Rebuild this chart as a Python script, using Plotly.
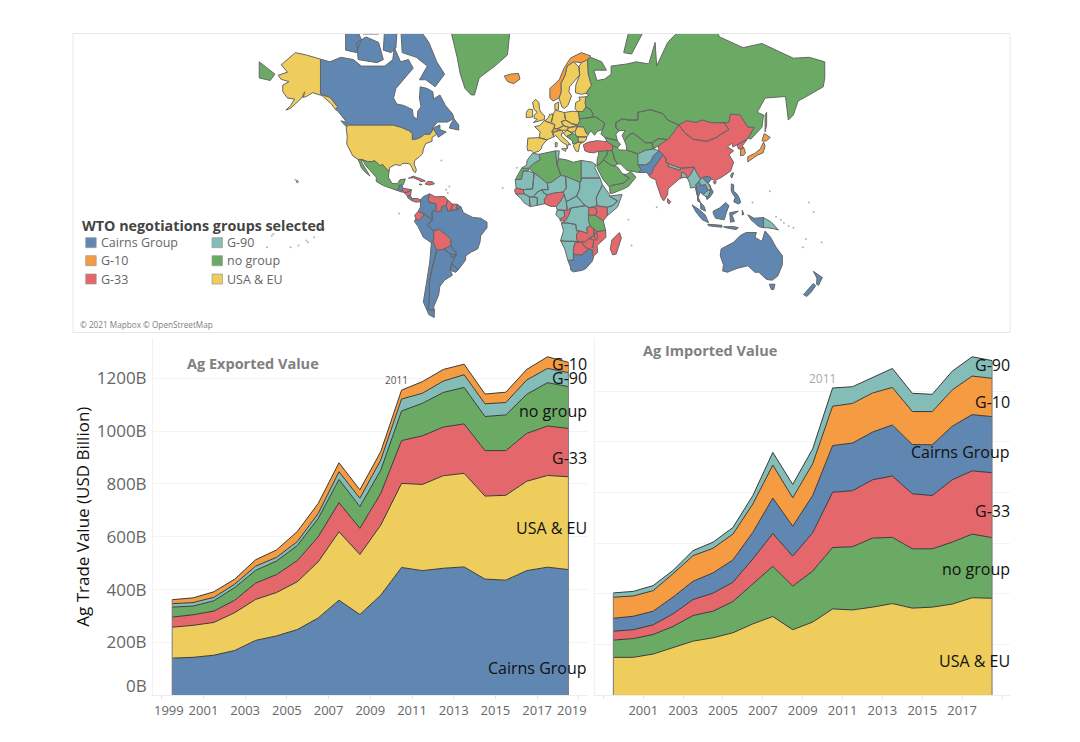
import math
import plotly.graph_objects as go

# ---------- Trade data (USD billion), one value per year, stack order bottom to top ----------
YEARS = list(range(1999, 2019))
EXP_CAIRNS = [141,144,152,170,208,225,249,293,360,306,379,484,472,481,486,440,436,472,485,476]
EXP_USA_EU = [117,121,124,143,155,164,181,212,259,227,265,318,326,350,354,314,321,338,347,351]
EXP_G33    = [38,40,43,47,62,68,80,95,110,99,120,162,184,184,187,172,169,181,187,183]
EXP_NONE   = [38,33,39,48,48,51,57,69,88,82,88,112,123,131,138,129,135,148,164,158]
EXP_G90    = [13,13,13,13,16,14,15,19,29,32,38,45,38,43,48,48,47,54,54,53]
EXP_G10    = [15,18,21,19,24,28,38,38,34,32,32,34,44,44,40,37,39,40,44,39]

IMP_USA_EU = [150,150,163,188,214,227,247,282,311,259,289,341,337,348,362,344,348,360,385,383]
IMP_NONE   = [68,74,77,84,101,105,123,158,198,172,201,242,249,272,261,234,230,244,251,239]
IMP_G33    = [35,35,38,50,63,71,76,98,129,118,151,218,221,230,242,217,210,246,249,256]
IMP_CAIRNS = [51,53,54,66,72,80,88,105,140,118,147,184,188,188,201,194,200,211,222,221]
IMP_G10    = [83,80,81,92,101,97,102,112,130,112,125,155,156,154,148,130,131,143,152,151]
IMP_G90    = [17,18,20,13,20,24,26,33,50,53,59,72,66,60,75,72,68,74,76,70]

Y_TICKS = [200, 400, 600, 800, 1000, 1200]
Y_LABELS = ["200B", "400B", "600B", "800B", "1000B", "1200B"]
X_TICKS_L = list(range(1999, 2020, 2))
X_TICKS_R = list(range(1999, 2020, 2))

COL = {"Cairns Group": "#5F87B1", "G-10": "#F59B42", "G-33": "#E4686B",
       "G-90": "#84BDB8", "no group": "#6BAA64", "USA & EU": "#EECD5C"}

# ---------- Simplified country outlines (lon, lat), by negotiating group ----------
CAIRNS_SHAPES = [
 [(-141,69.6),(-135,69),(-128,70),(-120,69.5),(-115,68),(-108,68),(-100,68),(-95,69.5),(-94,72),(-90,69),(-85,69.5),(-82,67.5),(-87,65),(-93,62),(-94.5,59),(-92.5,57),(-88,56.5),(-82.5,55),(-82,52.5),(-79.5,51.3),(-79,54.5),(-77,56),(-78,59),(-77.5,62.5),(-73,62),(-69.5,61),(-69,58.7),(-65,60),(-61.5,56.5),(-57,53.5),(-56,51.7),(-60,50.2),(-66.5,50.2),(-70,47.5),(-65,49),(-65,47),(-61,46),(-64,44.5),(-66,43.6),(-67,45),(-69,47.4),(-71.5,45),(-75,45),(-76.5,44),(-79,43),(-82.5,42.5),(-82.5,45.3),(-84.5,46.5),(-89.5,48),(-95,49),(-123,49),(-130,54.5),(-131.5,55),(-130,56),(-135,59.3),(-139,59.9),(-141,60.3)],
 [(-59,47.7),(-53,46.8),(-53,49),(-56,51.5),(-58,49.5)],
 [(-128,50.7),(-125,50.2),(-123.5,48.5),(-125.5,48.9)],
 [(-62,66),(-68,62.5),(-74,64.5),(-78,64.5),(-73,68),(-80,70),(-89,71),(-90,76),(-80,76),(-72,73),(-67,69)],
 [(-117,69.5),(-105,68.8),(-101,69.5),(-104,73),(-112,74),(-118,73)],
 [(-125,71.5),(-118,71),(-115,73.5),(-119,76),(-125,76)],
 [(-101,71.5),(-96,71),(-93,72),(-92,76),(-100,76)],
 [(-90,77),(-78,77),(-62,82.5),(-85,83),(-92,81)],
 [(-114,74.5),(-104,74.5),(-104,78),(-114,78)],
 [(-92.2,14.5),(-91,16),(-91,17.8),(-89.2,17.8),(-88.3,15.7),(-90,13.8)],
 [(-85.7,11),(-83.7,11),(-82.7,9.5),(-83,8.2),(-85.5,10)],
 [(-77.3,8.7),(-75.5,10.7),(-71.5,12.4),(-72.5,9),(-72,7),(-67.5,6.2),(-67.5,2),(-70,1.2),(-69.8,-4.2),(-72,-2.3),(-75.2,-0.1),(-78.8,1.4),(-77.4,4)],
 [(-80.3,-3.4),(-78.5,-4.5),(-75.5,-1.5),(-75.2,-0.1),(-72,-2.3),(-69.8,-4.2),(-73,-7.2),(-70.5,-9.5),(-69,-11),(-69,-16.5),(-70.4,-18.3),(-75.5,-15),(-79,-8),(-81.3,-5)],
 [(-70.4,-18.3),(-69.5,-17.5),(-67,-22.8),(-70,-33),(-71.7,-40),(-71.7,-48),(-72.5,-52),(-68.5,-52.3),(-68.6,-55),(-72,-54),(-75.5,-49),(-73.5,-40),(-71.5,-30)],
 [(-67,-22.8),(-62.6,-22.2),(-58,-25),(-54.6,-25.6),(-57.6,-30.2),(-58.4,-34),(-57,-36.5),(-62,-39),(-65,-42),(-65.8,-46),(-69,-51),(-68.5,-52.3),(-72.5,-52),(-71.7,-48),(-71.7,-40),(-70,-33)],
 [(-62.6,-22.2),(-58,-20),(-55,-24),(-54.6,-25.6),(-58,-27),(-58,-25)],
 [(-57.6,-30.2),(-53.4,-33.8),(-55,-35),(-58.4,-34)],
 [(-61,5.2),(-60,1.3),(-58,2),(-54.3,2.3),(-51.6,4.2),(-50,0.5),(-44,-2.5),(-39,-3),(-35,-5.5),(-35,-9),(-39,-14),(-39.5,-18),(-41,-22),(-45,-23.8),(-48.5,-26),(-48.7,-28.5),(-53.4,-33.8),(-57.6,-30.2),(-54.6,-25.6),(-55,-24),(-58,-20),(-58,-16.3),(-60.5,-13.8),(-65.4,-10),(-69,-11),(-70.5,-9.5),(-73,-7.2),(-69.8,-4.2),(-70,1.2),(-67.5,2),(-67,1.2),(-64,1.5),(-64,4)],
 [(-54,5.9),(-51.6,4.2),(-54.3,2.3)],
 [(16.5,-28.6),(20,-28.5),(20,-25),(23,-25.3),(25.5,-25.7),(27,-24),(30,-22.3),(32,-22.3),(32,-26),(33,-26.5),(32,-29),(28,-33),(25.5,-34),(20,-34.8),(18.4,-34),(18,-32)],
 [(61,29.7),(66,29.5),(69.3,31.5),(71,34.5),(74.5,37),(77,35),(74.5,32),(71,27.7),(70,25),(68,23.7),(66.5,25.3),(61.6,25.2),(63,27)],
 [(100,20),(101,17.5),(104,18),(105.5,14.5),(102.5,12),(100.5,13.5),(99.5,10),(101,6.8),(99,8),(99,11),(98,18)],
 [(102,22.3),(106,23),(108,21.5),(105.8,19),(109,13.5),(107,10.5),(105,8.8),(104.5,10.5),(106,11),(107.5,14.5),(107.5,15),(107,17.5)],
 [(101,6.8),(102,6),(103.5,4),(104,1.5),(101,3)],
 [(109,1.5),(113,3.5),(117,7),(119,5),(117.5,1),(116,-4),(110.5,-3),(109,0)],
 [(95.5,5.5),(100,2.5),(104,-1),(106,-5.8),(102,-4),(98,1)],
 [(105.5,-6.8),(114.5,-7.5),(114.5,-8.7),(106,-7.8)],
 [(115.5,-8.4),(122,-8.3),(125,-9),(123.5,-10.2),(117,-9)],
 [(119.5,0.5),(125,1.5),(121,-1),(122.5,-5),(120,-5.5)],
 [(127.5,2),(128.5,-0.5),(127.5,-1)],
 [(120.5,18.5),(122,18),(122,14),(124,12.5),(125.5,10),(126.5,7),(125,6),(122,7.5),(123,10),(120.5,14)],
 [(131,-0.8),(135,-3),(141,-2.6),(141,-9),(138,-8.3),(133,-4)],
 [(114,-22),(122,-18),(126,-14),(130,-12),(136.5,-12),(135.5,-15),(140,-17.5),(142,-11),(145.5,-15),(149,-21),(153,-26),(153,-31),(150,-37),(146.5,-39),(143,-38.7),(138,-35),(135.5,-35),(131,-31.5),(124,-33),(118,-35),(115,-34.3),(115.5,-31),(113.5,-26)],
 [(144.7,-41),(148.3,-41),(147.5,-43.5),(146,-43.5)],
 [(172.7,-34.5),(178.5,-37.7),(176,-41.5),(174.8,-41),(175,-38)],
 [(172.7,-40.6),(174.2,-41.7),(171,-45),(168.5,-46.6),(166.5,-45.8)],
]
G10_SHAPES = [
 [(-24,65.5),(-22,64),(-18,63.4),(-14,64.7),(-15,66.2),(-20,66)],
 [(5,59),(7,58),(10.8,59),(12.2,61),(12,63.5),(14.5,65.5),(16,68),(20,69),(25,68.8),(29,69.5),(31,70.3),(25,71),(18,69.8),(14,67.5),(11,64.5),(5,62)],
 [(6.2,46.2),(7.5,47.5),(10,47.4),(10,46.3),(8,46)],
 [(126.5,38),(128.5,38.5),(129.5,36),(128.5,34.8),(126.3,34.5)],
 [(131,34),(135.5,35.7),(139,38),(141,41.3),(142,39.5),(140.8,36),(137,34.7),(135,33.7),(131,31.2)],
 [(140,42),(141.5,45.3),(145.3,43.5),(143,42),(141,41.7)],
]
G33_SHAPES = [
 [(-89.3,15),(-88,15.8),(-83.2,15),(-85,13.8),(-87.5,13)],
 [(-87.5,13),(-85,13.8),(-83.2,15),(-83.7,11),(-85.7,11)],
 [(-90,13.8),(-89.3,15),(-87.5,13.2)],
 [(-83,8.2),(-82.7,9.5),(-79.5,9.5),(-77.3,8.7),(-78,7.3),(-80.5,7.3)],
 [(-85,21.9),(-82,23.1),(-77,21.5),(-74.2,20.2),(-77.5,19.9),(-78,20.7),(-82,22.2)],
 [(-74.4,18.4),(-72.8,20),(-69.8,19.8),(-68.4,18.6),(-71.5,17.8)],
 [(-78.3,18.4),(-76.3,18.2),(-77.5,17.8)],
 [(-71.5,12.4),(-68,10.6),(-62,10.7),(-60,8.5),(-61,5.2),(-64,4),(-64,1.5),(-67,1.2),(-67.5,2),(-67.5,6.2),(-72,7),(-72.5,9)],
 [(-60,8.5),(-57,6),(-58,2),(-60,1.3),(-61,5.2)],
 [(-57,6),(-54,5.9),(-54.3,2.3),(-58,2)],
 [(-78.8,1.4),(-75.2,-0.1),(-75.5,-1.5),(-78.5,-4.5),(-80.3,-3.4),(-81,-1)],
 [(-69,-11),(-65.4,-10),(-60.5,-13.8),(-58,-16.3),(-58,-20),(-62.6,-22.2),(-67,-22.8),(-69.5,-17.5),(-69,-16.5)],
 [(26.3,40),(29,41.2),(35,42),(41.5,41.5),(44.8,39.7),(44.8,37),(42,37.2),(36,36.8),(33,36),(30,36.2),(27.3,37)],
 [(77,35),(79,33),(78.8,31),(81,30),(80,28.7),(88,26.4),(88.2,27.8),(92,27.8),(97,28.3),(94.5,24),(92.5,22),(91.5,24.5),(89,25.5),(88.5,22),(86.8,21),(85,19.5),(80.2,15.5),(80,12),(77.5,8),(76,10),(74,15),(72.8,19),(72.5,21),(69,22.3),(68,23.7),(70,25),(71,27.7),(74.5,32)],
 [(80,9.5),(82,7.5),(80.7,6),(79.8,7.5)],
 [(74,39.5),(80,42.5),(83,45),(87,49),(91,45.5),(96,42.7),(105,41.7),(111,43.5),(115,45.5),(119,47),(116,49.8),(119,50),(120,53.3),(126,53),(131,48),(135,48),(131,43),(128,41.5),(124.3,40),(121.5,39),(121,40.8),(118,39),(122,37),(119,35),(122,31),(120,26),(114,22.3),(110,20.5),(108,21.5),(106,23),(102,22.3),(101,21.5),(98.5,25),(97,28.3),(92,27.8),(88.2,27.8),(81,30),(78.8,31),(79,33),(77,35),(74.5,37)],
 [(87,49),(92,50.7),(98,50),(102,51),(107,50),(114,50),(116,49.8),(119,47),(115,45.5),(111,43.5),(105,41.7),(96,42.7),(91,45.5)],
 [(124.3,40),(128,41.5),(130.5,42.5),(127.5,39.5),(128.5,38.5),(126.5,38),(125,38)],
 [(109,19.8),(111,19.8),(110,18.3)],
 [(-16.5,16),(-12,15),(-11.5,12.5),(-16.7,12.4),(-17.5,14.7)],
 [(1.6,6.2),(1.5,9),(3.5,11.8),(8,13),(13.5,13.5),(14,12),(12,8),(9,4.5),(5.5,4.5)],
 [(14,2),(16,2),(18.5,3.5),(17,-1),(15,-4.5),(11.5,-4.8),(11.5,-3.5),(14.5,-2)],
 [(30,3.7),(34,4),(35,1),(34,-1),(29.5,-1)],
 [(35,5),(36,4.5),(41.5,4),(41.5,-1.5),(39,-4.7),(34,-1),(35,1),(34,4)],
 [(22,-13),(24,-11),(29,-12.5),(28.5,-9),(30.7,-8),(32.5,-9.3),(33,-11),(33.2,-14),(30,-15.5),(27.5,-17.7),(25,-17.8),(23.5,-17.5),(22,-16.5)],
 [(33,-9.5),(34.8,-11.5),(35.5,-15),(34.5,-17),(33,-14)],
 [(25,-17.8),(27.5,-17.7),(30,-15.8),(32.9,-16.7),(32.5,-21),(30,-22.3),(27,-20.5)],
 [(30,-15.5),(33.2,-14),(34.8,-11.5),(40.5,-10.7),(40.7,-15),(35,-20),(35.5,-24),(33,-26),(32,-26),(32.5,-21),(32.9,-16.7)],
 [(20,-22),(21,-18.3),(25,-17.8),(27,-20.5),(30,-22.3),(27,-24),(25.5,-25.7),(23,-25.3),(20,-25)],
 [(49.3,-12),(50.5,-15.5),(47.2,-25),(45,-25.5),(43.5,-22),(44.5,-16.5)],
]
G90_SHAPES = [
 [(-13,27.7),(-9.8,29.5),(-9.5,32),(-6,35.8),(-2,35.2),(-1.2,32.5),(-5,30.5),(-8.7,27.7)],
 [(-17,21),(-13,21.3),(-12,26),(-8.7,26),(-5,25),(-6,15.5),(-12,15),(-16.5,16)],
 [(8.5,37),(11,37),(10.5,33),(9.5,30)],
 [(25,32),(32,31),(34.5,29.5),(33.5,28),(36.9,22),(25,22)],
 [(-12,15),(-6,15.5),(-5,25),(3.3,19),(4,15),(0,15),(-3,13.5),(-5.5,10.5),(-8,10.5),(-11.5,12.5)],
 [(0,15),(4,15),(3.3,19),(6,19.5),(12,23.5),(15,23),(15.5,16),(13.5,13.5),(8,13),(3.5,11.8),(1,13)],
 [(15,23),(24,19.5),(24,15.5),(22,11),(15.5,7.5),(14,12),(13.5,13.5),(15.5,16)],
 [(24,19.5),(25,20),(25,22),(36.9,22),(38.5,18),(36.5,14),(34.5,10),(35,5),(30,3.7),(27.5,5),(24,9),(22,11),(24,15.5)],
 [(36.5,14),(38.5,18),(43,12),(42.8,11),(48,8),(45,5),(41.5,4),(36,4.5),(35,5),(34.5,10)],
 [(42.8,11),(51,12),(48,4),(41.5,-1.5),(41.5,4),(45,5),(48,8)],
 [(-16.7,12.4),(-11.5,12.5),(-8,10.5),(-8,8),(-7.5,4.4),(-11.5,6.9),(-13.5,9.5)],
 [(-8,10.5),(-5.5,10.5),(-3,10),(-3,5.2),(-7.5,4.4),(-8,8)],
 [(-5.5,10.5),(-3,13.5),(0,15),(1,13),(3.5,11.8),(1.5,9),(1.6,6.2),(-3,5.2),(-3,10)],
 [(9,4.5),(12,8),(14,12),(15.5,7.5),(16,2),(9.7,2.3)],
 [(15.5,7.5),(22,11),(24,9),(27.5,5),(18.5,3.5),(16,2)],
 [(9.7,2.3),(14,2),(14.5,-2),(11.5,-3.5),(8.8,-0.7)],
 [(18.5,3.5),(27.5,5),(30,3.7),(29.5,-1),(29.5,-4.5),(30.7,-8),(28.5,-9),(29,-12.5),(24,-11),(22,-11),(21.5,-7),(16,-6),(12.3,-6),(15,-4.5),(17,-1)],
 [(12.3,-6),(16,-6),(21.5,-7),(22,-11),(24,-11),(22,-13),(22,-16.5),(23.5,-17.5),(14,-17.4),(11.8,-17),(13.7,-11),(13,-8)],
 [(11.8,-17),(14,-17.4),(23.5,-17.5),(25,-17.8),(21,-18.3),(20,-22),(20,-28.5),(16.5,-28.6),(14.5,-22)],
 [(61,35.5),(66,37.3),(71,38),(74.5,37),(71,34.5),(69.3,31.5),(66,29.5),(61,29.7),(61,31)],
 [(80,28.7),(81,30),(88.2,27.8),(88,26.4)],
 [(88.5,22),(89,25.5),(91.5,24.5),(92.5,22),(91,22.5)],
 [(92.5,22),(94.5,24),(97,28.3),(98.5,25),(101,21.5),(98,18),(99,11),(97.5,16.5),(94.5,16),(94,19)],
 [(101,21.5),(102,22.3),(107,17.5),(107.5,15),(105.5,14.5),(104,18),(101,17.5),(100,20)],
 [(102.5,12),(105.5,14.5),(107.5,14.5),(106,11),(104.5,10.5)],
 [(141,-2.6),(146,-5.5),(150.5,-10.5),(147,-9.5),(143,-9),(141,-9)],
]
NOGROUP_SHAPES = [
 [(-45,60),(-43,60),(-40,65),(-30,68),(-22,70.5),(-20,75),(-18,80),(-30,83.5),(-60,82),(-70,78),(-58,75),(-54,70),(-52,66),(-49,62)],
 [(-114.8,32.5),(-111,31.3),(-108.2,31.4),(-106.5,31.8),(-104.8,30.5),(-103,29),(-101.5,29.8),(-99.5,27.5),(-97.3,26),(-97.8,22.5),(-95.5,18.8),(-92,18.6),(-90.5,21),(-87,21.5),(-88.3,18),(-89.2,17.8),(-91,16),(-92.2,14.5),(-96,15.8),(-101,17.5),(-105.5,20),(-105.5,22.5),(-109,26),(-112.5,29.5),(-113.5,31.3)],
 [(-117.1,32.5),(-114.8,32.4),(-114.5,30.5),(-112,27),(-109.5,23.2),(-112,25),(-115,28),(-116,30.5)],
 [(28,60.5),(30,60),(28,59.4),(27.5,57.5),(28,56),(31,55),(32.7,53.2),(31,52),(34,52.3),(40,49.7),(38.5,47),(37.5,45),(40,43.5),(48,42),(47,45),(49,46.5),(47,48),(47,50),(51,51.5),(55,51),(61,51),(61,54),(69,55),(77,53.5),(80,51),(87,49),(92,50.7),(98,50),(102,51),(107,50),(114,50),(119,50),(120,53.3),(126,53),(131,48),(135,48),(131,43),(133,42.8),(140,48),(141,53),(137,54),(142,59),(155,59.5),(155.5,57),(156.8,51),(160,53),(163,58),(170,60),(179,62.5),(180,65),(180,69),(170,70),(160,69.8),(140,72.8),(128,72),(113,74),(105,77.8),(87,75),(80,73),(73,68),(72,73),(68,68.5),(60,69),(54,68.5),(44,68),(44,66),(40,64.7),(35,64.3),(33,67),(41,67),(38,69),(31,70),(29,69.5),(29.5,66),(31.5,62.9)],
 [(-180,65),(-173,64.3),(-170,66),(-175,67.5),(-180,69)],
 [(142,46),(143,49),(143,54),(142,53)],
 [(52,71),(57,70.7),(68,76.5),(56,75.7)],
 [(49,46.5),(47,48),(47,50),(51,51.5),(55,51),(61,51),(61,54),(69,55),(77,53.5),(80,51),(87,49),(85,47),(83,45),(80,42.5),(74,43),(70,41),(66,41),(61,44),(58,45.5),(56,45),(52.5,42),(51,44.5),(53,46.7)],
 [(52.5,42),(56,45),(58,45.5),(61,44),(66,41),(70,41),(71,38),(66,37.3),(61,35.5),(54,37.3),(53.5,40)],
 [(70,41),(74,43),(80,42.5),(74,39.5),(71,38)],
 [(40,43.5),(48,42),(50,40.2),(48,38.5),(44.8,39.7),(41.5,41.5)],
 [(44.8,39.7),(48,38.5),(49,37.5),(54,37.3),(61,35.5),(61,31),(63,27),(61.6,25.2),(57,26),(54,26.5),(50,30),(48,30),(46,33),(44.8,37)],
 [(42,37.2),(44.8,37),(46,33),(48,30),(46.5,29),(44,29.3),(39,32.3),(41,34.5)],
 [(36,36.8),(42,37.2),(41,34.5),(39,32.3),(37,30),(35,29.5),(35.2,33),(36,35)],
 [(35,29.5),(37,30),(39,32.3),(44,29.3),(46.5,29),(48.5,28),(50,26),(51.5,24.3),(55.5,22),(52,19),(44,17.5),(43,16.5),(39,21),(35,28)],
 [(43,16.5),(44,17.5),(52,19),(55.5,22),(51.5,24.3),(54,24.2),(56.4,26),(59.8,22.5),(55,17),(52,15.5),(45,12.8),(43.3,12.8)],
 [(23,54.3),(26,54.3),(28,56),(31,55),(32.7,53.2),(31,52),(24,51.5)],
 [(24,51.5),(31,52),(34,52.3),(40,49.7),(38.5,47),(35,46.2),(33.5,44.5),(31,46.5),(29.6,45),(28.2,45.5),(26.5,48.2),(22.5,48.3),(22.7,49.1),(24,50.5)],
 [(16,44.2),(19,45),(19,46),(21.5,44.5),(23,43),(23,41.3),(20.8,40.5),(19.5,40.5),(19.3,42),(18.5,42.4)],
 [(-17,21),(-13,27.7),(-8.7,27.7),(-8.7,26),(-12,26),(-13,21.3)],
 [(-8.7,27.7),(-5,30.5),(-1.2,32.5),(-2,35.2),(8.5,37),(9.5,30),(12,23.5),(6,19.5),(3.3,19),(-5,25)],
 [(9.5,30),(10.5,33),(15.5,32.3),(20,31),(25,32),(25,20),(24,19.5),(15,23),(12,23.5)],
 [(29.5,-1),(34,-1),(39,-4.7),(39.5,-6.5),(40.5,-10.7),(35,-11.5),(32.5,-9.3),(30.7,-8),(29.5,-4.5)],
 [(121,25),(122,25),(120.8,22),(120,23.3)],
]
USAEU_SHAPES = [
 [(-124.7,48.4),(-123,49),(-95,49),(-89.5,48),(-84.5,46.5),(-82.5,45.3),(-82.5,42.5),(-79,43),(-76.5,44),(-75,45),(-71.5,45),(-69,47.4),(-67,45),(-70,43.5),(-70,41.7),(-74,40.6),(-75.5,38),(-76,35.5),(-78,33.9),(-81,32),(-81.4,30),(-80,26.8),(-80.5,25.2),(-81.8,26),(-82.8,28),(-84,30),(-86,30.4),(-89,30.3),(-90,29.2),(-93.5,29.7),(-97,28),(-97.3,26),(-99.5,27.5),(-101.5,29.8),(-103,29),(-104.8,30.5),(-106.5,31.8),(-108.2,31.4),(-111,31.3),(-114.8,32.5),(-117.1,32.5),(-120.5,34.5),(-122.5,37.5),(-124.3,40.4),(-124,44)],
 [(-141,69.6),(-141,60.3),(-139,59.9),(-135,59.3),(-130,56),(-131.5,55),(-134,57),(-137,58.5),(-140,59.8),(-146,60.7),(-150,59.5),(-152,59.2),(-151,61),(-153,59),(-156,57.5),(-160,55.5),(-163,54.8),(-160,56.5),(-157.5,58.7),(-162,59),(-165,61),(-165,63),(-161,64),(-166,64.6),(-168,65.7),(-162,66.5),(-166,68.3),(-157,71),(-150,70.5)],
 [(-156,20.8),(-155,19.8),(-155.8,19),(-156.3,20)],
 [(-10,52),(-6,52.2),(-6,55),(-8.5,55.2),(-10,54)],
 [(-5.5,50),(1.5,51.2),(1.7,52.7),(0,53.5),(-1.5,55),(-2,57.5),(-4,58.6),(-6,57.5),(-5,55),(-3,54),(-5,53),(-5,51.7),(-3,51.3)],
 [(-9,43.2),(-1.8,43.4),(3.2,42.4),(0.2,39.8),(-0.5,38),(-2,36.8),(-5.5,36),(-7,37.2),(-9,37),(-9.5,38.7)],
 [(-1.8,43.4),(-1.2,46),(-4.7,48.3),(-1.6,48.7),(1.5,50.8),(4.2,50),(8.2,49),(7.5,47.5),(6.2,46.2),(7.5,43.8),(3.2,42.4)],
 [(1.5,50.8),(2.5,51),(4,52),(5,53.3),(7.1,53.4),(6,50.2),(4.2,50)],
 [(7.1,53.4),(8.7,54.9),(10,54.6),(14.2,53.9),(15,51),(12.2,50.3),(13.7,48.7),(10,47.4),(7.5,47.5),(8.2,49),(6,50.2)],
 [(8.2,55),(8.2,57),(10.6,57.7),(10.5,55),(9.7,54.8)],
 [(14.2,53.9),(19,54.4),(23,54.3),(24,50.5),(22.7,49.1),(19,49.5),(15,51)],
 [(12.2,50.3),(15,51),(19,49.5),(22.5,49),(18,47.8),(13.7,48.7)],
 [(10,47.4),(13.7,48.7),(17,48),(16,46.8),(12.5,46.7)],
 [(16,46.8),(17,48),(22.5,48.3),(21,46.2),(18.5,45.8)],
 [(7.5,43.8),(7,45.9),(8,46),(10,46.5),(12.5,46.7),(13.7,45.6),(12.3,45.2),(12.5,44),(16,41.8),(18.4,40),(16.8,40.4),(16,38),(15.7,40),(12.5,41.4),(10.5,43),(8.8,44.4)],
 [(12.5,38),(15.5,38.2),(15,36.7)],
 [(8.3,41),(9.7,41),(9.5,39),(8.5,39)],
 [(13.7,45.6),(16,46.8),(18.5,45.8),(19,45),(16,44.2),(18.5,42.4),(15,44.2),(14,45)],
 [(21,46.2),(22.5,48.3),(26.5,48.2),(28.2,45.5),(29.6,45),(28.6,43.8),(25,43.7),(23,43.8),(21.5,44.5)],
 [(23,43.8),(25,43.7),(28.6,43.8),(27.8,42),(26.3,41.3),(23,41.3)],
 [(20.8,40.5),(23,41.3),(26.3,41.3),(24,40.3),(23.5,38),(23,36.5),(21.5,37),(20,39.5)],
 [(21,55.3),(21.5,57.5),(24.3,58.3),(23.5,59.3),(28,59.4),(27.5,57.5),(28,56),(26,54.3),(23,54.3)],
 [(10.8,59),(12.7,56),(14.2,55.4),(16.5,56.5),(18.8,59.7),(17.2,61),(17.5,62.5),(21,64.5),(24,65.8),(23.5,67.8),(20,69),(16,68),(14.5,65.5),(12,63.5),(12.2,61)],
 [(21.3,60.7),(25,60.2),(28,60.5),(31.5,62.9),(29.5,66),(29,69.5),(28,70),(25,68.8),(23.5,67.8),(24,65.8),(21.5,63)],
]
# Small Pacific and Atlantic islands, seen only as specks
ISLAND_LON = [-157,-150,-149,-145,-141,-139,-172,-171,-175,178,168,166,160,157,154,152,149,145,134,170,173,-25,-16,-61,-60,-59,-64,57,55,73,-91,-155,-160]
ISLAND_LAT = [21,-17,-18,-15,-9,-10,-14,-13,-21,-18,-16,-21,-9,-8,-6,-4,-2,14,7,7,1,16,28,15,13,17,32,-20,-4,4,0,-20,-21]

# ---------- Layout helpers (page pixels; the browser's 8 px body margin is removed) ----------
W, H, PAGE = 1064, 726, 8
def px(v): return (v - PAGE) / W
def py(v): return 1 - (v - PAGE) / H
def merc(lat): return math.log(math.tan(math.pi / 4 + math.radians(lat) / 2))

FONT = "Open Sans"
LINE = "#3a3a3a"
fig = go.Figure()

# ---------- Map ----------
for name, shapes in [("USA & EU", USAEU_SHAPES), ("no group", NOGROUP_SHAPES), ("G-90", G90_SHAPES),
                     ("G-33", G33_SHAPES), ("G-10", G10_SHAPES), ("Cairns Group", CAIRNS_SHAPES)]:
    xs, ys = [], []
    for poly in shapes:
        xs += [p[0] for p in poly] + [poly[0][0], None]
        ys += [merc(p[1]) for p in poly] + [merc(poly[0][1]), None]
    fig.add_trace(go.Scatter(x=xs, y=ys, mode="lines", fill="toself", fillcolor=COL[name],
                             line=dict(color="#666666", width=1), xaxis="x3", yaxis="y3",
                             showlegend=False, hoverinfo="skip"))
fig.add_trace(go.Scatter(x=ISLAND_LON, y=[merc(v) for v in ISLAND_LAT], mode="markers",
                         marker=dict(size=2, color="#b5b5b5"), xaxis="x3", yaxis="y3",
                         showlegend=False, hoverinfo="skip"))

# ---------- Stacked areas ----------
XVALS = [y + 0.5 for y in YEARS]
EXPORT = [("Cairns Group", EXP_CAIRNS), ("USA & EU", EXP_USA_EU), ("G-33", EXP_G33),
          ("no group", EXP_NONE), ("G-90", EXP_G90), ("G-10", EXP_G10)]
IMPORT = [("USA & EU", IMP_USA_EU), ("no group", IMP_NONE), ("G-33", IMP_G33),
          ("Cairns Group", IMP_CAIRNS), ("G-10", IMP_G10), ("G-90", IMP_G90)]
for series, xa, ya, grp in [(EXPORT, "x", "y", "exp"), (IMPORT, "x2", "y2", "imp")]:
    for name, vals in series:
        fig.add_trace(go.Scatter(x=XVALS, y=vals, mode="lines", name=name, stackgroup=grp,
                                 fillcolor=COL[name], line=dict(color=LINE, width=1),
                                 xaxis=xa, yaxis=ya, showlegend=False))
    total_first = sum(v[0] for _, v in series)
    total_last = sum(v[-1] for _, v in series)
    fig.add_trace(go.Scatter(x=[XVALS[0], XVALS[0], None, XVALS[-1], XVALS[-1]],
                             y=[0, total_first, None, 0, total_last], mode="lines",
                             line=dict(color="#777777", width=1), xaxis=xa, yaxis=ya,
                             showlegend=False, hoverinfo="skip"))

def year_axis(x0, x1, r0, r1, anchor, vals, text):
    return dict(domain=[px(x0), px(x1)], range=[r0, r1], anchor=anchor, tickmode="array",
                tickvals=vals, ticktext=text, ticks="outside", ticklen=3, tickcolor="#e2e2e2",
                showgrid=False, zeroline=False, showline=True, linecolor="#ececec", linewidth=1,
                tickfont=dict(family=FONT, size=13, color="#666666"))
def val_axis(top, r1, anchor, **kw):
    return dict(domain=[py(695.4), py(top)], range=[0, r1], anchor=anchor, showgrid=True,
                gridcolor="#f3f3f3", gridwidth=1, zeroline=False, showline=True,
                linecolor="#f1f1f1", linewidth=1, **kw)

left_text = ["" if y in (1999, 2019) else str(y) for y in X_TICKS_L]
right_text = ["" if y in (1999, 2019) else str(y) for y in X_TICKS_R]

fig.update_layout(
    width=W, height=H, margin=dict(l=0, r=0, t=0, b=0), paper_bgcolor="white", plot_bgcolor="white",
    showlegend=False, hovermode=False, font=dict(family=FONT),
    xaxis=year_axis(153, 588, 1998.58, 2019.44, "y", X_TICKS_L, left_text),
    yaxis=val_axis(338, 1352, "x", tickmode="array", tickvals=Y_TICKS, ticktext=Y_LABELS,
                   ticklabelstandoff=2,
                   tickfont=dict(family=FONT, size=17, color="#666666"),
                   title=dict(text="Ag Trade Value (USD Billion)", standoff=2,
                              font=dict(family=FONT, size=17, color="#111111"))),
    xaxis2=year_axis(595, 1010, 1998.58, 2019.4, "y2", X_TICKS_R, right_text),
    yaxis2=val_axis(338, 1409, "x2", tickmode="array", tickvals=Y_TICKS, showticklabels=False),
    xaxis3=dict(domain=[px(74), px(1009)], range=[(74 - 542) / 1.571, (1009 - 542) / 1.571],
                visible=False, anchor="y3", fixedrange=True),
    yaxis3=dict(domain=[py(332), py(34)], range=[(213.5 - 332) / 90, (213.5 - 34) / 90],
                visible=False, anchor="x3", fixedrange=True),
)

# ---------- Panel border and legend ----------
fig.add_shape(type="rect", xref="paper", yref="paper", x0=px(73), x1=px(1010), y0=py(332.5), y1=py(33.5),
              line=dict(color="#e8e8e8", width=1), layer="above")
LEGEND = [("Cairns Group", 85.7, 242.7), ("G-10", 85.7, 260.7), ("G-33", 85.7, 279),
          ("G-90", 212, 242.7), ("no group", 212, 260.7), ("USA & EU", 212, 279)]
def note(text, x, y, size, color, anchor="left", xref="paper", yref="paper", bold=False):
    fig.add_annotation(text=f"<b>{text}</b>" if bold else text, x=x, y=y, xref=xref, yref=yref,
                       showarrow=False, xanchor=anchor, yanchor="middle",
                       font=dict(family=FONT, size=size, color=color), borderpad=0, borderwidth=0)
for name, x, y in LEGEND:
    fig.add_shape(type="rect", xref="paper", yref="paper", x0=px(x), x1=px(x + 10.5),
                  y0=py(y + 5), y1=py(y - 5), fillcolor=COL[name], line=dict(color="#9a9a9a", width=0.7),
                  layer="above")
    note(name, px(x + 15.3), py(y), 12.5, "#666666")
note("WTO negotiations groups selected", px(82), py(225), 14.3, "#444444", bold=True)
note("© 2021 Mapbox © OpenStreetMap", px(80), py(324.5), 8.2, "#808080")

# ---------- Chart text ----------
note("Ag Exported Value", px(187), py(363), 14.5, "#808080", bold=True)
note("Ag Imported Value", px(643), py(351), 14.5, "#808080", bold=True)
note("0B", px(147), py(685), 17, "#666666", anchor="right")
note("1999", px(169), py(710), 13, "#666666", anchor="center")
note("2019", px(571.7), py(710), 13, "#666666", anchor="center")
note("2011", 2010.28, 1195, 10, "#555555", anchor="center", xref="x", yref="y")
note("2011", 2010.0, 1251, 12, "#aaaaaa", anchor="center", xref="x2", yref="y2")

LABELS_EXP = [("G-10", 1255), ("G-90", 1202), ("no group", 1077), ("G-33", 899), ("USA & EU", 634), ("Cairns Group", 104)]
LABELS_IMP = [("G-90", 1303), ("G-10", 1157), ("Cairns Group", 959), ("G-33", 726), ("no group", 497), ("USA & EU", 134)]
for name, v in LABELS_EXP:
    note(name, 2019.4, v, 16, "#111111", anchor="right", xref="x", yref="y")
for name, v in LABELS_IMP:
    note(name, 2019.4, v, 16, "#111111", anchor="right", xref="x2", yref="y2")

fig.write_html("out.html")
